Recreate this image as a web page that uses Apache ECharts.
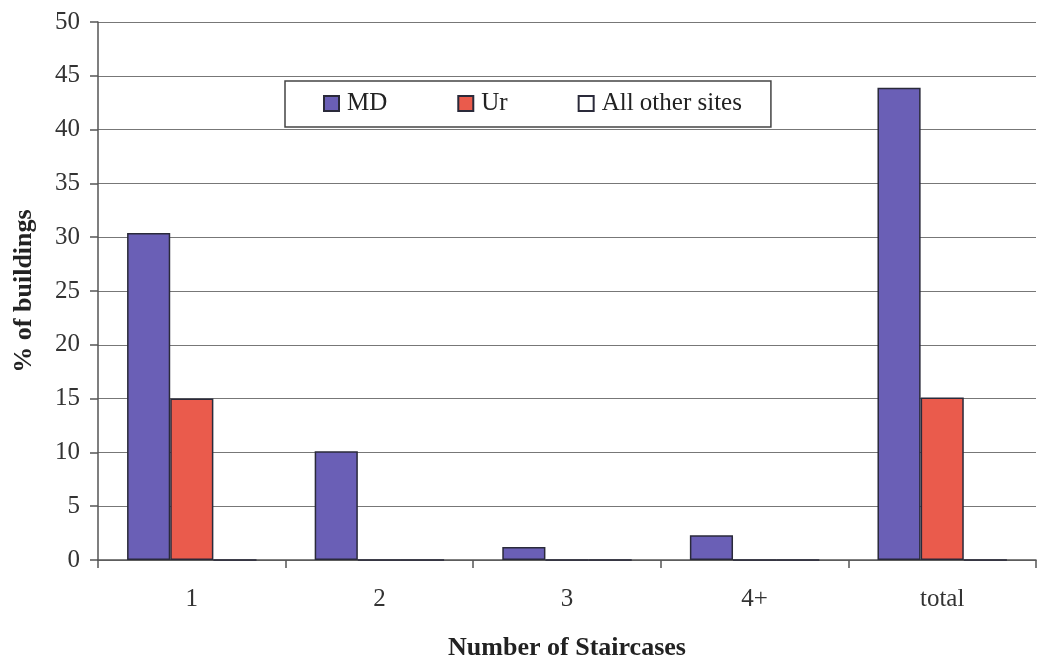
<!DOCTYPE html>
<html><head><meta charset="utf-8">
<script src="https://cdn.jsdelivr.net/npm/echarts@6/dist/echarts.min.js"></script>
<style>html,body{margin:0;padding:0;background:#fff}#c{width:1037px;height:660px}</style>
</head><body><div id="c"></div>
<script>
var categories = ['1', '2', '3', '4+', 'total'];
var mdValues = [30.4, 10.1, 1.2, 2.3, 43.9];
var urValues = [15.0, 0, 0, 0, 15.1];
var otherValues = [0, 0, 0, 0, 0];
var seriesNames = ['MD', 'Ur', 'All other sites'];
var yTicks = { min: 0, max: 50, interval: 5 };

var font = 'Liberation Serif';
var chart = echarts.init(document.getElementById('c'), null, { renderer: 'canvas' });
function bar(name, data, color) {
  return {
    name: name, type: 'bar', data: data,
    barGap: '0%', barCategoryGap: '31%',
    itemStyle: { color: color, borderColor: '#2a2a3a', borderWidth: 1.5 },
    emphasis: { disabled: true }
  };
}
chart.setOption({
  animation: false,
  textStyle: { fontFamily: font },
  grid: { left: 98, right: 1, top: 22, bottom: 100, containLabel: false, outerBoundsMode: 'none' },
  legend: {
    left: 285, top: 81,
    padding: [10, 29, 11, 38],
    itemGap: 70,
    itemWidth: 15, itemHeight: 15,
    icon: 'rect',
    backgroundColor: '#fff',
    borderColor: '#444', borderWidth: 1.5,
    textStyle: { fontFamily: font, fontSize: 25, color: '#222', padding: [0, 0, 0, 3] },
    data: seriesNames
  },
  xAxis: {
    type: 'category', data: categories,
    name: 'Number of Staircases', nameLocation: 'middle', nameGap: 75,
    nameTextStyle: { fontFamily: font, fontSize: 26, fontWeight: 'bold', color: '#222' },
    axisLine: { lineStyle: { color: '#555', width: 1.5 } },
    axisTick: { show: true, length: 8, lineStyle: { color: '#555', width: 1.5 } },
    axisLabel: { fontFamily: font, fontSize: 25, color: '#333', margin: 27 }
  },
  yAxis: {
    type: 'value', min: yTicks.min, max: yTicks.max, interval: yTicks.interval,
    name: '% of buildings', nameLocation: 'middle', nameGap: 61, nameRotate: 90,
    nameTextStyle: { fontFamily: font, fontSize: 26, fontWeight: 'bold', color: '#222' },
    axisLine: { show: true, lineStyle: { color: '#555', width: 1.5 } },
    axisTick: { show: true, length: 8, lineStyle: { color: '#555', width: 1.5 } },
    axisLabel: { fontFamily: font, fontSize: 25, color: '#333', margin: 18 },
    splitLine: { lineStyle: { color: '#777', width: 1.2 } }
  },
  series: [
    bar(seriesNames[0], mdValues, '#6a5fb6'),
    bar(seriesNames[1], urValues, '#ea5b4c'),
    bar(seriesNames[2], otherValues, '#ffffff')
  ]
});
</script></body></html>
